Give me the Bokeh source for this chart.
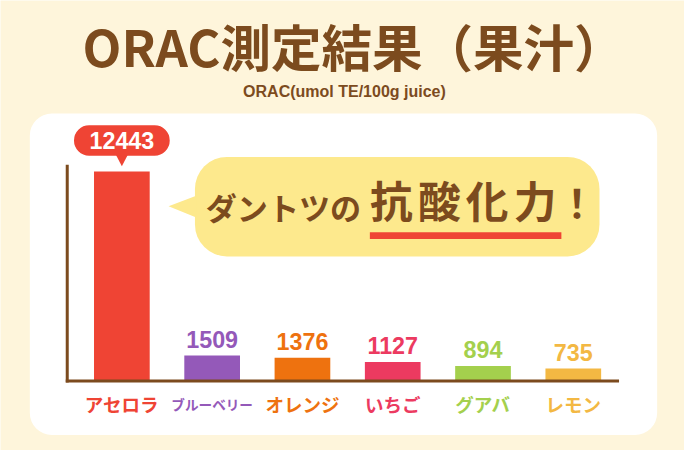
from bokeh.plotting import figure
from bokeh.models import Range1d, BoxAnnotation
from bokeh.core.properties import value
from bokeh.embed import file_html
from bokeh.resources import INLINE

# ---- data ----
categories = ["アセロラ", "ブルーベリー", "オレンジ", "いちご", "グアバ", "レモン"]
orac_values = [12443, 1509, 1376, 1127, 894, 735]
title_text = "ORAC測定結果（果汁）"
subtitle_text = "ORAC(umol TE/100g juice)"
bubble_plain = "ダントツの"
bubble_bold = ["抗", "酸", "化", "力"]
bubble_mark = "！"

# ---- styles ----
BG = "#FEF5DB"
BROWN = "#7C4B1E"
RED = "#EF4434"
BUBBLE = "#FDE98D"
bar_colors = ["#EF4434", "#9459B9", "#EE720F", "#EC3A60", "#A4D04D", "#F3B843"]
JP = value("Noto Sans CJK JP")
LAT = value("Liberation Sans")

W, H = 684, 450            # figure size (fits the window with its 8px margin)
RW, RH = 700, 466          # reference design size
S = (W / RW + H / RH) / 2  # font scale


def fs(v):
    return f"{v * S:.1f}px"


label_sizes = [fs(19), fs(14), fs(19), fs(19), fs(19), fs(19)]

X0, DX = 124.2, 92.4       # first bar centre / bar pitch (design pixels)
BASE_Y, TOP_Y = 394.0, 177.0
k = (BASE_Y - TOP_Y) / max(orac_values)

idx = list(range(len(categories)))

p = figure(width=W, height=H, output_backend="svg", toolbar_location=None,
           x_axis_location=None, y_axis_location=None, min_border=0,
           x_range=Range1d((0 - X0) / DX, (RW - X0) / DX),
           y_range=Range1d(-(RH - BASE_Y) / k, BASE_Y / k))
p.extra_x_ranges = {"px": Range1d(0, RW)}
p.extra_y_ranges = {"px": Range1d(RH, 0)}
p.grid.visible = False
p.outline_line_color = None
p.background_fill_color = BG
p.border_fill_color = BG

PX = dict(x_range_name="px", y_range_name="px")

# white panel
p.add_layout(BoxAnnotation(left=30, right=672, top=117, bottom=450, fill_color="white",
                           fill_alpha=1, line_color=None, border_radius=22,
                           level="underlay", **PX))
# speech bubble
p.add_layout(BoxAnnotation(left=199, right=613, top=162, bottom=265, fill_color=BUBBLE,
                           fill_alpha=1, line_color=None, border_radius=32,
                           level="underlay", **PX))
p.patch(x=[201, 172, 201], y=[202, 213, 225], color=BUBBLE, line_color=None, **PX)

# callout for the top bar
cx = X0
top_px = BASE_Y - k * orac_values[0]
p.add_layout(BoxAnnotation(left=cx - 49, right=cx + 49, top=top_px - 47.7, bottom=top_px - 16.3,
                           fill_color=RED, fill_alpha=1, line_color=None, border_radius=16,
                           level="underlay", **PX))
p.patch(x=[cx - 6, cx + 6, cx], y=[top_px - 17, top_px - 17, top_px - 5.3],
        color=RED, line_color=None, **PX)

# bars
p.vbar(x=idx, top=orac_values, bottom=0, width=57 / DX, color=bar_colors, line_color=None)

# axis lines
p.multi_line(xs=[[68.3, 68.3], [66.8, 633]], ys=[[170, 395.5], [394, 394]],
             line_width=3, line_color=BROWN, **PX)

# value labels
p.text(x=idx[1:], y=orac_values[1:], text=[str(v) for v in orac_values[1:]],
       text_color=bar_colors[1:], text_font=LAT, text_font_style="bold",
       text_font_size=fs(24), text_align="center", text_baseline="middle",
       y_offset=-17 * S)
p.text(x=idx[:1], y=orac_values[:1], text=[str(orac_values[0])], text_color="white",
       text_font=LAT, text_font_style="bold", text_font_size=fs(24),
       text_align="center", text_baseline="middle", y_offset=-32 * S)

# category labels
p.text(x=idx, y=[418] * len(idx), text=categories, text_color=bar_colors,
       text_font=JP, text_font_style="bold", text_font_size=label_sizes,
       text_align="center", text_baseline="middle", y_range_name="px")

# title / subtitle
p.text(x=[84], y=[46], text=[title_text], text_color=BROWN, text_font=JP,
       text_font_style="bold", text_font_size=fs(52), text_align="left",
       text_baseline="middle", **PX)
p.text(x=[352], y=[94.5], text=[subtitle_text], text_color=BROWN, text_font=LAT,
       text_font_style="bold", text_font_size=fs(16.5), text_align="center",
       text_baseline="middle", **PX)

# bubble text
p.text(x=[210], y=[213], text=[bubble_plain], text_color=BROWN, text_font=JP,
       text_font_style="bold", text_font_size=fs(32), text_align="left",
       text_baseline="middle", **PX)
p.quad(left=[378], right=[574], top=[240], bottom=[247], color=RED, line_color=None, **PX)
p.text(x=[400 + 49 * j for j in range(len(bubble_bold))], y=[206] * len(bubble_bold),
       text=bubble_bold, text_color=BROWN, text_font=JP, text_font_style="bold",
       text_font_size=fs(44), text_align="center", text_baseline="middle", **PX)
p.text(x=[590], y=[208], text=[bubble_mark], text_color=BROWN, text_font=JP,
       text_font_style="bold", text_font_size=fs(40), text_align="center",
       text_baseline="middle", **PX)

open("out.html", "w").write(file_html(p, INLINE))
